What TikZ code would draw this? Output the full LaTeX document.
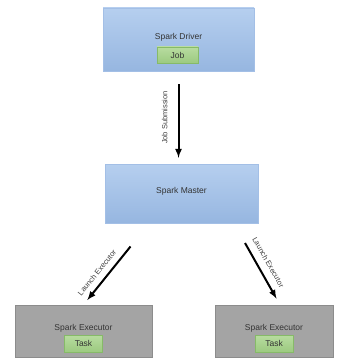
\documentclass[tikz,border=0pt]{standalone}
\usepackage{fontspec}
\setmainfont{Liberation Sans}
\usetikzlibrary{math}

\definecolor{blueTop}{HTML}{B6CFEF}
\definecolor{blueBottom}{HTML}{96B6E0}
\definecolor{blueLine}{HTML}{A3BFE6}
\definecolor{greenTop}{HTML}{B8DCA0}
\definecolor{greenBottom}{HTML}{9CCA80}
\definecolor{greenLine}{HTML}{86BA68}
\definecolor{grayFill}{HTML}{A4A4A4}
\definecolor{grayLine}{HTML}{8C8C8C}

\begin{document}
\begin{tikzpicture}[x=1pt,y=1pt,
    bluebox/.style={draw=blueLine, top color=blueTop, bottom color=blueBottom, inner sep=0pt},
    graybox/.style={draw=grayLine, fill=grayFill, inner sep=0pt},
    greenbox/.style={draw=greenLine, top color=greenTop, bottom color=greenBottom,
        inner sep=0pt, font=\fontsize{8.5}{10}\selectfont, text=black!80},
    boxtext/.style={inner sep=0pt, font=\fontsize{8.5}{10}\selectfont, text=black!80},
    arrowtext/.style={inner sep=0pt, font=\fontsize{7.5}{9}\selectfont, text=black!75},
    launch/.style={line width=2pt, -latex}
]

\useasboundingbox (0,0) rectangle (342,-358);

% Driver with its job
\node[bluebox, minimum width=151pt, minimum height=63pt] (driver) at (178.5,-39.5) {};
\node[boxtext] (driverText) at (178.5,-37) {Spark Driver};
\node[greenbox, minimum width=41pt, minimum height=16pt] (job) at (177.5,-55) {Job};

% Master
\node[bluebox, minimum width=153pt, minimum height=59pt] (master) at (181.5,-193.5) {};
\node[boxtext] (masterText) at (181.5,-191) {Spark Master};

% Executors with their tasks
\foreach \name/\x/\w in {execL/83.5/137, execR/274/118} {
    \node[graybox, minimum width=\w pt, minimum height=52pt] (\name) at (\x,-331) {};
    \node[boxtext] (\name Text) at (\x,-328) {Spark Executor};
    \node[greenbox, minimum width=38pt, minimum height=17pt] (\name Task) at (\x,-343.5) {Task};
}

% Submission of the job
\draw[launch, shorten <=13pt, shorten >=6pt]
    (driver.south) -- (driver.south |- master.north)
    node[midway, anchor=south, xshift=-10pt, rotate=90, arrowtext] {Job Submission};

% Launching the executors
\coordinate (launchL) at (130.5,-246.5);
\coordinate (launchR) at (245,-243);
\draw[launch, shorten >=6pt]
    (launchL) -- (execL.north)
    node[pos=0.55, sloped, above=6pt, arrowtext] {Launch Executor};
\draw[launch, shorten >=7pt]
    (launchR) -- ([xshift=6pt]execR.north)
    node[pos=0.4, sloped, above=7pt, arrowtext] {Launch Executor};

\end{tikzpicture}
\end{document}
